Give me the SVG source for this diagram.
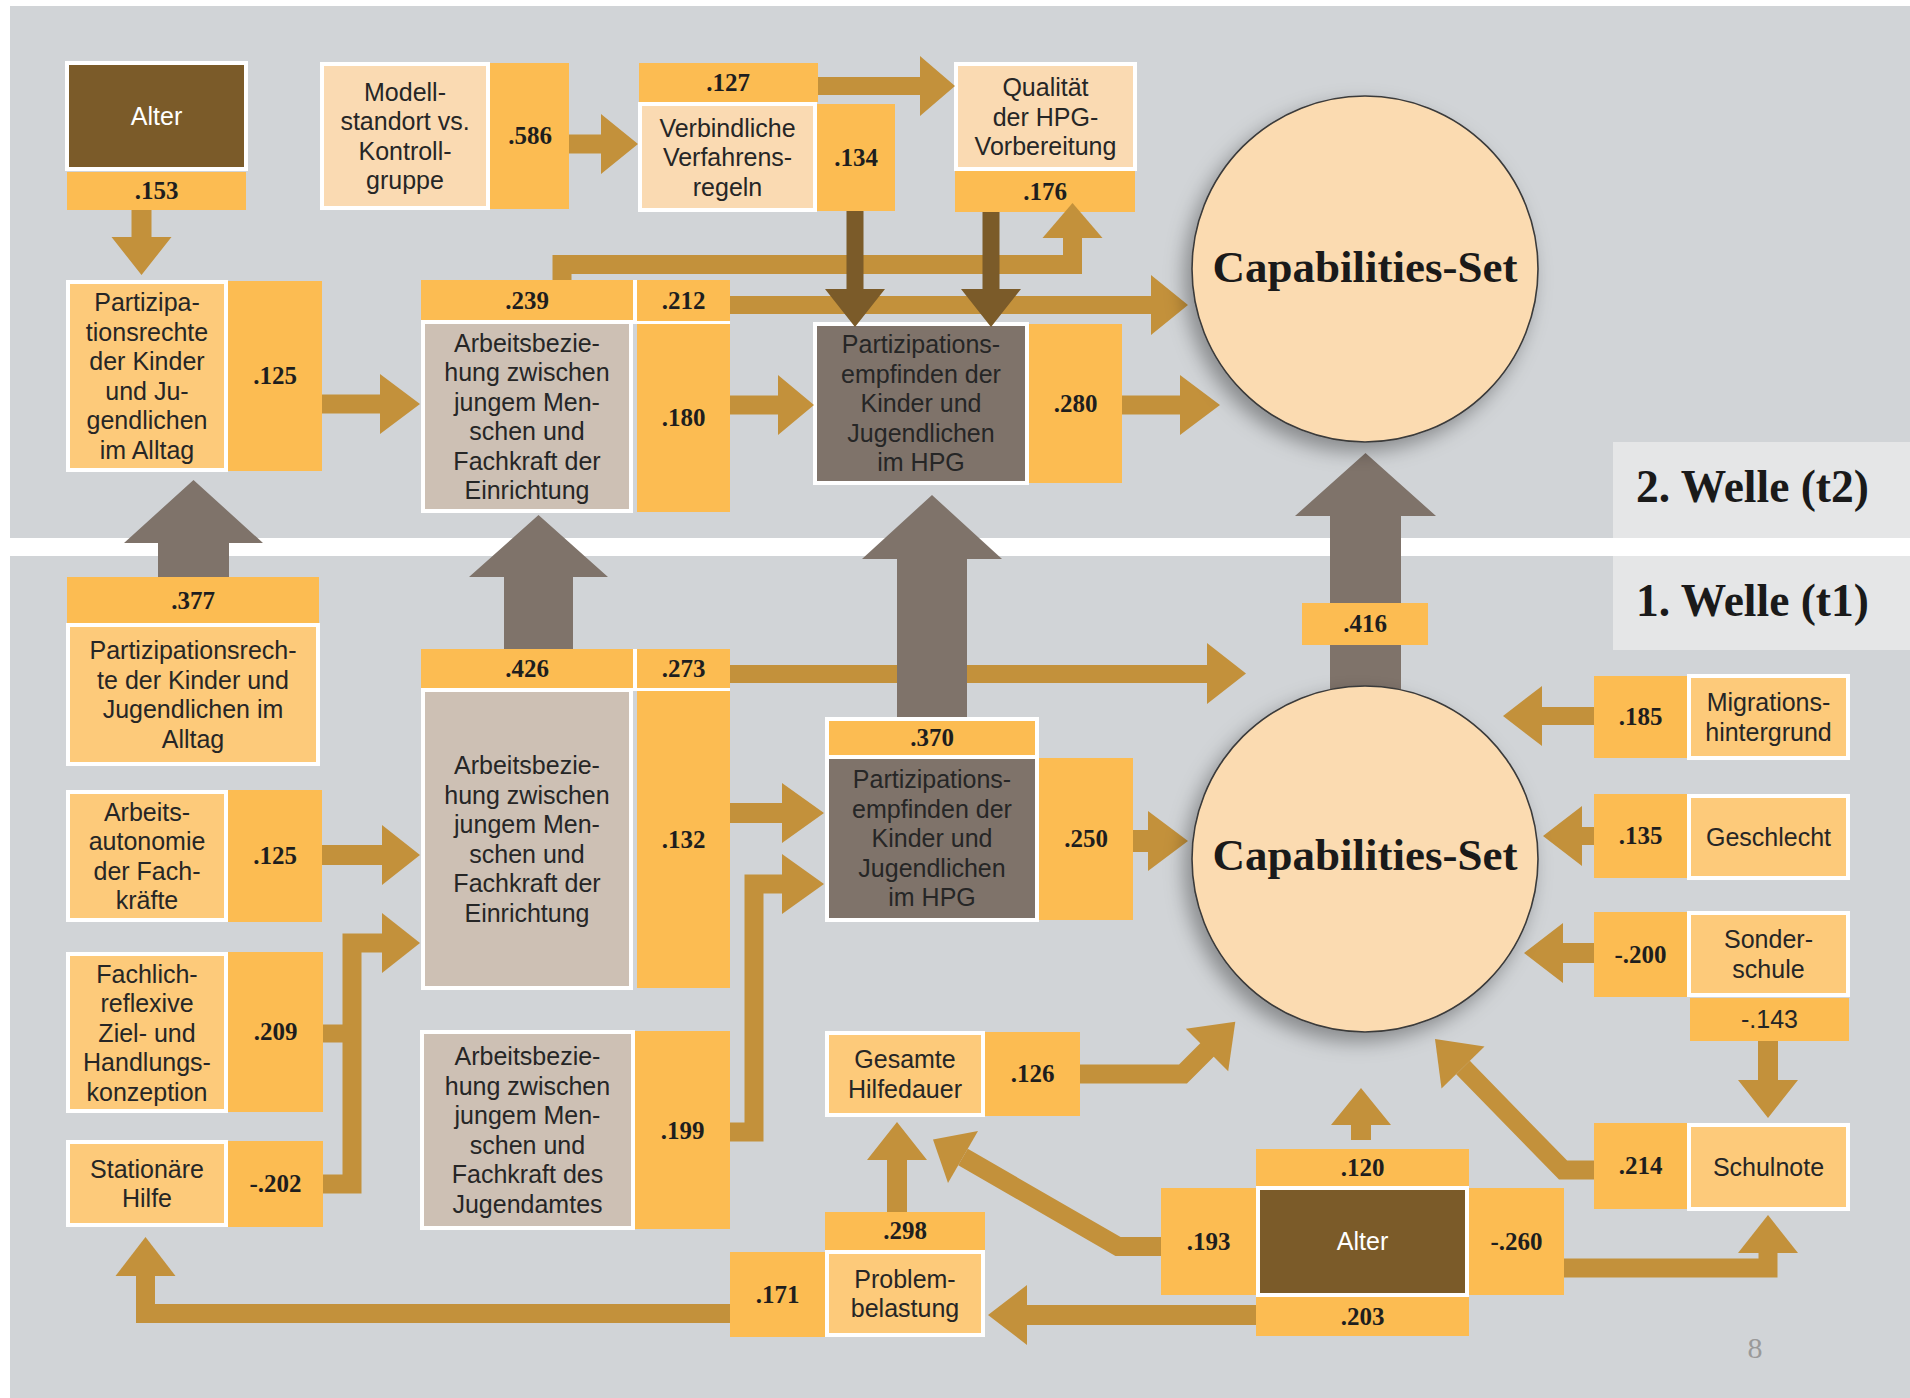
<svg xmlns="http://www.w3.org/2000/svg" width="1910" height="1398" viewBox="0 0 1910 1398">
<defs>
<style>
.bg{fill:#d1d4d7}
.wl{fill:#e5e6e7}
.v{fill:#fcbc52}
.w{fill:#ffffff}
.n1{fill:#fdca7a;stroke:#fff;stroke-width:4}
.n2{fill:#fadab2;stroke:#fff;stroke-width:4}
.n3{fill:#cdc0b4;stroke:#fff;stroke-width:4}
.n4{fill:#7f736a;stroke:#fff;stroke-width:4}
.n5{fill:#7b5b29;stroke:#fff;stroke-width:4}
.t{font-family:"Liberation Sans",Arial,sans-serif;font-size:25px;fill:#262626;text-anchor:middle}
.tw{font-family:"Liberation Sans",Arial,sans-serif;font-size:25px;fill:#ffffff;text-anchor:middle}
.num{font-family:"Liberation Serif","Times New Roman",serif;font-weight:bold;font-size:25px;fill:#1e1e1e;text-anchor:middle}
.cap{font-family:"Liberation Serif","Times New Roman",serif;font-weight:bold;font-size:45px;fill:#1a1a1a;text-anchor:middle}
.welle{font-family:"Liberation Serif","Times New Roman",serif;font-weight:bold;font-size:45.5px;fill:#1a1a1a}
.ga{fill:#c3913b}
.gs{fill:none;stroke:#c3913b;stroke-width:19;stroke-linejoin:miter}
.da{fill:#7b5b29}
.ba{fill:#7f736a}
.circ{fill:#fbdbb1;stroke:#3a3a3a;stroke-width:1.6}
</style>
<filter id="sh" x="-30%" y="-30%" width="160%" height="160%">
<feDropShadow dx="-7" dy="9" stdDeviation="10" flood-color="#000" flood-opacity="0.35"/>
</filter>
</defs>

<!-- background panels -->
<rect x="0" y="0" width="1910" height="1398" fill="#ffffff"/>
<rect class="bg" x="10" y="6" width="1900" height="532"/>
<rect class="bg" x="10" y="556" width="1900" height="842"/>
<rect class="wl" x="1613" y="442" width="297" height="96"/>
<rect class="wl" x="1613" y="556" width="297" height="94"/>
<text class="welle" x="1636" y="502">2. Welle (t2)</text>
<text class="welle" x="1636" y="616">1. Welle (t1)</text>

<!-- ===== nodes (boxes) ===== -->
<g id="alter-t2">
<rect class="n5" x="67" y="63" width="179" height="106"/>
<text class="tw" x="156.5" y="125">Alter</text>
<rect class="v" x="67" y="172" width="179" height="38"/>
<text class="num" x="156.5" y="199">.153</text>
</g>

<g id="partizipationsrechte-t2">
<rect class="n1" x="68" y="282" width="158" height="188"/>
<text class="t" x="147" y="311">Partizipa-</text>
<text class="t" x="147" y="341">tionsrechte</text>
<text class="t" x="147" y="370">der Kinder</text>
<text class="t" x="147" y="400">und Ju-</text>
<text class="t" x="147" y="429">gendlichen</text>
<text class="t" x="147" y="459">im Alltag</text>
<rect class="v" x="228" y="281" width="94" height="190"/>
<text class="num" x="275" y="384">.125</text>
</g>

<g id="modellstandort">
<rect class="n2" x="322" y="64" width="166" height="144"/>
<text class="t" x="405" y="101">Modell-</text>
<text class="t" x="405" y="130">standort vs.</text>
<text class="t" x="405" y="160">Kontroll-</text>
<text class="t" x="405" y="189">gruppe</text>
<rect class="v" x="490" y="63" width="79" height="146"/>
<text class="num" x="530" y="144">.586</text>
</g>

<g id="verfahrensregeln">
<rect class="v" x="639" y="63" width="179" height="39"/>
<text class="num" x="728" y="91">.127</text>
<rect class="n2" x="640" y="104" width="175" height="106"/>
<text class="t" x="727.5" y="137">Verbindliche</text>
<text class="t" x="727.5" y="166">Verfahrens-</text>
<text class="t" x="727.5" y="196">regeln</text>
<rect class="v" x="817" y="104" width="78" height="107"/>
<text class="num" x="856" y="166">.134</text>
</g>

<g id="qualitaet-hpg">
<rect class="n2" x="956" y="64" width="179" height="105"/>
<text class="t" x="1045.5" y="96">Qualität</text>
<text class="t" x="1045.5" y="126">der HPG-</text>
<text class="t" x="1045.5" y="155">Vorbereitung</text>
<rect class="v" x="955" y="171" width="180" height="41"/>
<text class="num" x="1045" y="200">.176</text>
</g>

<g id="arbeitsbeziehung-t2">
<rect class="v" x="421" y="280" width="212" height="40"/>
<text class="num" x="527" y="308.5">.239</text>
<rect class="w" x="633" y="280" width="4" height="44"/>
<rect class="v" x="637" y="280" width="93" height="41"/>
<text class="num" x="683.5" y="309">.212</text>
<rect class="w" x="633" y="321" width="97" height="3"/>
<rect class="n3" x="423" y="322" width="208" height="189"/>
<text class="t" x="527" y="352">Arbeitsbezie-</text>
<text class="t" x="527" y="381">hung zwischen</text>
<text class="t" x="527" y="411">jungem Men-</text>
<text class="t" x="527" y="440">schen und</text>
<text class="t" x="527" y="470">Fachkraft der</text>
<text class="t" x="527" y="499">Einrichtung</text>
<rect class="v" x="637" y="324" width="93" height="188"/>
<text class="num" x="683.5" y="426">.180</text>
</g>

<g id="partizipationsempfinden-t2">
<rect class="n4" x="815" y="324" width="212" height="159"/>
<text class="t" x="921" y="353">Partizipations-</text>
<text class="t" x="921" y="383">empfinden der</text>
<text class="t" x="921" y="412">Kinder und</text>
<text class="t" x="921" y="442">Jugendlichen</text>
<text class="t" x="921" y="471">im HPG</text>
<rect class="v" x="1029" y="324" width="93" height="159"/>
<text class="num" x="1075.5" y="412">.280</text>
</g>

<g id="partizipationsrechte-t1">
<rect class="v" x="67" y="577" width="252" height="46"/>
<text class="num" x="193" y="608.5">.377</text>
<rect class="n1" x="68" y="625" width="250" height="139"/>
<text class="t" x="193" y="659">Partizipationsrech-</text>
<text class="t" x="193" y="689">te der Kinder und</text>
<text class="t" x="193" y="718">Jugendlichen im</text>
<text class="t" x="193" y="748">Alltag</text>
</g>

<g id="arbeitsbeziehung-t1">
<rect class="v" x="421" y="649" width="212" height="39"/>
<text class="num" x="527" y="677">.426</text>
<rect class="w" x="633" y="649" width="4" height="42"/>
<rect class="v" x="637" y="649" width="93" height="39"/>
<text class="num" x="683.5" y="677">.273</text>
<rect class="w" x="633" y="688" width="97" height="3"/>
<rect class="n3" x="423" y="690" width="208" height="298"/>
<text class="t" x="527" y="774">Arbeitsbezie-</text>
<text class="t" x="527" y="804">hung zwischen</text>
<text class="t" x="527" y="833">jungem Men-</text>
<text class="t" x="527" y="863">schen und</text>
<text class="t" x="527" y="892">Fachkraft der</text>
<text class="t" x="527" y="922">Einrichtung</text>
<rect class="v" x="637" y="691" width="93" height="297"/>
<text class="num" x="683.5" y="848">.132</text>
</g>

<g id="arbeitsautonomie">
<rect class="n1" x="68" y="792" width="158" height="128"/>
<text class="t" x="147" y="821">Arbeits-</text>
<text class="t" x="147" y="850">autonomie</text>
<text class="t" x="147" y="880">der Fach-</text>
<text class="t" x="147" y="909">kräfte</text>
<rect class="v" x="228" y="790" width="94" height="132"/>
<text class="num" x="275" y="864">.125</text>
</g>

<g id="fachlich-reflexiv">
<rect class="n1" x="68" y="954" width="158" height="157"/>
<text class="t" x="147" y="983">Fachlich-</text>
<text class="t" x="147" y="1012">reflexive</text>
<text class="t" x="147" y="1042">Ziel- und</text>
<text class="t" x="147" y="1071">Handlungs-</text>
<text class="t" x="147" y="1101">konzeption</text>
<rect class="v" x="228" y="952" width="95" height="160"/>
<text class="num" x="275.5" y="1040">.209</text>
</g>

<g id="stationaere-hilfe">
<rect class="n1" x="68" y="1142" width="158" height="83"/>
<text class="t" x="147" y="1178">Stationäre</text>
<text class="t" x="147" y="1207">Hilfe</text>
<rect class="v" x="228" y="1141" width="95" height="86"/>
<text class="num" x="275.5" y="1192">-.202</text>
</g>

<g id="arbeitsbeziehung-jugendamt">
<rect class="n3" x="422" y="1032" width="211" height="196"/>
<text class="t" x="527.5" y="1065">Arbeitsbezie-</text>
<text class="t" x="527.5" y="1095">hung zwischen</text>
<text class="t" x="527.5" y="1124">jungem Men-</text>
<text class="t" x="527.5" y="1154">schen und</text>
<text class="t" x="527.5" y="1183">Fachkraft des</text>
<text class="t" x="527.5" y="1213">Jugendamtes</text>
<rect class="v" x="635" y="1031" width="95" height="198"/>
<text class="num" x="682.5" y="1139">.199</text>
</g>

<g id="partizipationsempfinden-t1">
<rect class="w" x="825" y="717" width="214" height="205"/>
<rect class="v" x="829" y="721" width="206" height="34"/>
<text class="num" x="932" y="746">.370</text>
<rect fill="#7f736a" x="829" y="759" width="206" height="159"/>
<text class="t" x="932" y="788">Partizipations-</text>
<text class="t" x="932" y="818">empfinden der</text>
<text class="t" x="932" y="847">Kinder und</text>
<text class="t" x="932" y="877">Jugendlichen</text>
<text class="t" x="932" y="906">im HPG</text>
<rect class="v" x="1039" y="758" width="94" height="162"/>
<text class="num" x="1086" y="847">.250</text>
</g>

<g id="migrationshintergrund">
<rect class="v" x="1594" y="676" width="93" height="82"/>
<text class="num" x="1640.5" y="725">.185</text>
<rect class="n1" x="1689" y="676" width="159" height="82"/>
<text class="t" x="1768.5" y="711">Migrations-</text>
<text class="t" x="1768.5" y="741">hintergrund</text>
</g>

<g id="geschlecht">
<rect class="v" x="1594" y="794" width="93" height="84"/>
<text class="num" x="1640.5" y="844">.135</text>
<rect class="n1" x="1689" y="796" width="159" height="82"/>
<text class="t" x="1768.5" y="846">Geschlecht</text>
</g>

<g id="sonderschule">
<rect class="v" x="1594" y="912" width="93" height="85"/>
<text class="num" x="1640.5" y="963">-.200</text>
<rect class="n1" x="1689" y="913" width="159" height="82"/>
<text class="t" x="1768.5" y="948">Sonder-</text>
<text class="t" x="1768.5" y="978">schule</text>
<rect class="v" x="1690" y="998" width="159" height="43"/>
<text class="t" x="1769.5" y="1028">-.143</text>
</g>

<g id="schulnote">
<rect class="v" x="1594" y="1123" width="93" height="86"/>
<text class="num" x="1640.5" y="1174">.214</text>
<rect class="n1" x="1689" y="1125" width="159" height="84"/>
<text class="t" x="1768.5" y="1176">Schulnote</text>
</g>

<g id="gesamte-hilfedauer">
<rect class="n1" x="827" y="1033" width="156" height="82"/>
<text class="t" x="905" y="1068">Gesamte</text>
<text class="t" x="905" y="1098">Hilfedauer</text>
<rect class="v" x="985" y="1032" width="95" height="84"/>
<text class="num" x="1032.5" y="1082">.126</text>
</g>

<g id="problembelastung">
<rect class="v" x="825" y="1212" width="160" height="38"/>
<text class="num" x="905" y="1239">.298</text>
<rect class="n1" x="827" y="1252" width="156" height="83"/>
<text class="t" x="905" y="1288">Problem-</text>
<text class="t" x="905" y="1317">belastung</text>
<rect class="v" x="730" y="1252" width="95" height="85"/>
<text class="num" x="777.5" y="1303">.171</text>
</g>

<g id="alter-t1">
<rect class="v" x="1256" y="1149" width="213" height="37"/>
<text class="num" x="1362.5" y="1176">.120</text>
<rect class="v" x="1161" y="1188" width="95" height="107"/>
<text class="num" x="1208.5" y="1250">.193</text>
<rect class="n5" x="1258" y="1188" width="209" height="107"/>
<text class="tw" x="1362.5" y="1250">Alter</text>
<rect class="v" x="1469" y="1188" width="95" height="107"/>
<text class="num" x="1516.5" y="1250">-.260</text>
<rect class="v" x="1256" y="1297" width="213" height="39"/>
<text class="num" x="1362.5" y="1325">.203</text>
</g>

<!-- ===== connectors ===== -->
<g id="connectors">
<!-- gold arrows, wave 2 -->
<polygon class="ga" points="131.5,210 151.5,210 151.5,237 171.5,237 141.5,275 111.5,237 131.5,237"/>
<polygon class="ga" points="322,394.5 380,394.5 380,374 420,404 380,434 380,413.5 322,413.5"/>
<polygon class="ga" points="569,134.5 601,134.5 601,114 638,144 601,174 601,153.5 569,153.5"/>
<polygon class="ga" points="818,77 920,77 920,56 955,86 920,116 920,95 818,95"/>
<polyline class="gs" points="562,280 562,264.5 1072.5,264.5 1072.5,237"/>
<polygon class="ga" points="1042.5,238 1102.5,238 1072.5,203"/>
<polygon class="ga" points="730,296 1151,296 1151,275 1188,305 1151,335 1151,314 730,314"/>
<polygon class="ga" points="730,395.5 778,395.5 778,375 814,405 778,435 778,414.5 730,414.5"/>
<polygon class="ga" points="1122,395.5 1180,395.5 1180,375 1220,405 1180,435 1180,414.5 1122,414.5"/>
<!-- dark brown arrows -->
<polygon class="da" points="846.5,211 863.5,211 863.5,289 885,289 855,327 825,289 846.5,289"/>
<polygon class="da" points="982.5,212 999.5,212 999.5,289 1021,289 991,327 961,289 982.5,289"/>
<!-- gold arrows, wave 1 -->
<polygon class="ga" points="322,845 382,845 382,825 420,855 382,885 382,865 322,865"/>
<polyline class="gs" points="323,1184 352,1184 352,943 383,943"/>
<line x1="323" y1="1033.5" x2="352" y2="1033.5" stroke="#c3913b" stroke-width="18"/>
<polygon class="ga" points="382,913 420,943 382,973"/>
<polygon class="ga" points="730,665 1207,665 1207,643 1246,673.5 1207,704 1207,683 730,683"/>
<polygon class="ga" points="730,803 782,803 782,783 824,813 782,843 782,823 730,823"/>
<polyline class="gs" points="730,1132 754,1132 754,884 783,884"/>
<polygon class="ga" points="782,854 824,884 782,914"/>
<polygon class="ga" points="1133,830 1148,830 1148,811 1188,841 1148,871 1148,852 1133,852"/>
<polygon class="ga" points="1594,707 1542,707 1542,686 1503,716 1542,746 1542,725 1594,725"/>
<polygon class="ga" points="1594,827 1582,827 1582,806 1543,836 1582,866 1582,845 1594,845"/>
<polygon class="ga" points="1594,943 1563,943 1563,923 1524,953 1563,983 1563,963 1594,963"/>
<polygon class="ga" points="1758,1041 1778,1041 1778,1080 1798,1080 1768,1118 1738,1080 1758,1080"/>
<polyline class="gs" points="1594,1170 1563,1170 1463,1067.5"/>
<polygon class="ga" points="1484.5,1046.6 1435,1038.9 1441.5,1088.4"/>
<polyline class="gs" points="1080,1074 1183,1074 1208,1049"/>
<polygon class="ga" points="1185.8,1028.8 1235.3,1021.7 1228.2,1071.2"/>
<polyline class="gs" points="1161,1246.5 1118,1246.5 963,1157"/>
<polygon class="ga" points="978,1131 933,1139.5 948,1183"/>
<polygon class="ga" points="1256,1305 1027,1305 1027,1285 988,1315 1027,1345 1027,1325 1256,1325"/>
<polygon class="ga" points="887,1212 907,1212 907,1160 927,1160 897,1122 867,1160 887,1160"/>
<polyline class="gs" points="730,1313.5 145.5,1313.5 145.5,1275"/>
<polygon class="ga" points="115.5,1276 175.5,1276 145.5,1237"/>
<polygon class="ga" points="1351,1140 1371,1140 1371,1125 1391,1125 1361,1088 1331,1125 1351,1125"/>
<polyline class="gs" points="1564,1268 1768,1268 1768,1252"/>
<polygon class="ga" points="1738,1253 1798,1253 1768,1215"/>
<!-- big grey arrows between waves -->
<polygon class="ba" points="158,577 229,577 229,543 263,543 193.5,480 124,543 158,543"/>
<polygon class="ba" points="504,649 573,649 573,577 608,577 538.5,515 469,577 504,577"/>
<polygon class="ba" points="897,717 967,717 967,559 1002,559 932,495 862,559 897,559"/>
<polygon class="ba" points="1330,692 1401,692 1401,516 1436,516 1365.5,453 1295,516 1330,516"/>
<g id="label-416">
<rect class="v" x="1302" y="603" width="126" height="42"/>
<text class="num" x="1365" y="632">.416</text>
</g>
</g>

<g id="capabilities-t2">
<circle class="circ" cx="1365" cy="269" r="173" filter="url(#sh)"/>
<text class="cap" x="1365" y="282">Capabilities-Set</text>
</g>
<g id="capabilities-t1">
<circle class="circ" cx="1365" cy="859" r="173" filter="url(#sh)"/>
<text class="cap" x="1365" y="870">Capabilities-Set</text>
</g>

<text x="1755" y="1358" font-family="Liberation Serif, serif" font-size="30" fill="#9a9a9a" text-anchor="middle">8</text>
</svg>
